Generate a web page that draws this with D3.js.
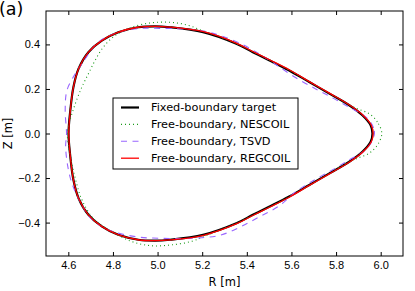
<!DOCTYPE html>
<html>
<head>
<meta charset="UTF-8">
<script src="https://d3js.org/d3.v7.min.js"></script>
<style>
  body { margin: 0; background: #fff; }
  svg { font-family: "DejaVu Sans", sans-serif; }
</style>
</head>
<body>
<svg width="415" height="291"></svg>
<script>
// boundary curves (R, Z in metres), closed loops
const targetR = [5.963, 5.955, 5.918, 5.859, 5.770, 5.680, 5.590, 5.502, 5.427, 5.353, 5.204, 5.055, 4.990, 4.914, 4.824, 4.750, 4.690, 4.646, 4.623, 4.609, 4.601,
                 4.609, 4.623, 4.646, 4.690, 4.750, 4.824, 4.914, 4.990, 5.055, 5.204, 5.353, 5.427, 5.502, 5.590, 5.680, 5.770, 5.859, 5.918, 5.955];
const targetZ = [0, 0.037, 0.082, 0.127, 0.179, 0.231, 0.283, 0.328, 0.365, 0.403, 0.455, 0.477, 0.481, 0.477, 0.455, 0.417, 0.365, 0.291, 0.209, 0.104, 0,
                 -0.104, -0.209, -0.291, -0.365, -0.417, -0.455, -0.477, -0.481, -0.477, -0.455, -0.403, -0.365, -0.328, -0.283, -0.231, -0.179, -0.127, -0.082, -0.037];

const nescoilR = [6.005, 5.985, 5.948, 5.893, 5.840, 5.770, 5.680, 5.590, 5.502, 5.427, 5.353, 5.270, 5.200, 5.140, 5.063, 4.973, 4.884, 4.810, 4.757, 4.720, 4.690, 4.661, 4.630, 4.605, 4.596,
                  4.600, 4.615, 4.636, 4.662, 4.715, 4.794, 4.884, 4.973, 5.063, 5.150, 5.210, 5.270, 5.353, 5.427, 5.502, 5.590, 5.680, 5.770, 5.840, 5.893, 5.948, 5.985];
const nescoilZ = [0, 0.052, 0.089, 0.112, 0.137, 0.180, 0.232, 0.284, 0.330, 0.367, 0.403, 0.437, 0.462, 0.485, 0.499, 0.497, 0.477, 0.440, 0.388, 0.328, 0.268, 0.209, 0.130, 0.050, 0,
                  -0.050, -0.130, -0.220, -0.300, -0.385, -0.440, -0.485, -0.504, -0.500, -0.485, -0.462, -0.437, -0.403, -0.367, -0.330, -0.284, -0.232, -0.180, -0.137, -0.112, -0.089, -0.052];

const tsvdR = [5.972, 5.968, 5.948, 5.910, 5.851, 5.784, 5.709, 5.620, 5.530, 5.460, 5.383, 5.290, 5.204, 5.110, 5.011, 4.929, 4.839, 4.735, 4.661, 4.631, 4.594, 4.586, 4.592,
               4.588, 4.598, 4.616, 4.640, 4.661, 4.700, 4.780, 4.914, 5.003, 5.100, 5.190, 5.277, 5.370, 5.460, 5.545, 5.620, 5.709, 5.790, 5.860, 5.920, 5.955];
const tsvdZ = [0, 0.025, 0.060, 0.090, 0.122, 0.160, 0.200, 0.250, 0.310, 0.355, 0.398, 0.437, 0.460, 0.470, 0.472, 0.472, 0.459, 0.410, 0.313, 0.268, 0.194, 0.104, 0,
               -0.060, -0.150, -0.224, -0.280, -0.321, -0.380, -0.433, -0.465, -0.470, -0.472, -0.468, -0.458, -0.420, -0.372, -0.325, -0.261, -0.205, -0.160, -0.118, -0.083, -0.045];

const regcoilR = [5.966, 5.958, 5.921, 5.862, 5.772, 5.682, 5.592, 5.504, 5.429, 5.355, 5.206, 5.055, 4.990, 4.912, 4.822, 4.748, 4.689, 4.646, 4.623, 4.609, 4.602,
                  4.609, 4.623, 4.646, 4.689, 4.748, 4.822, 4.912, 4.990, 5.055, 5.206, 5.355, 5.429, 5.504, 5.592, 5.682, 5.772, 5.862, 5.921, 5.958];
const regcoilZ = [0, 0.037, 0.082, 0.127, 0.180, 0.232, 0.285, 0.330, 0.367, 0.405, 0.457, 0.478, 0.481, 0.477, 0.454, 0.416, 0.364, 0.291, 0.209, 0.104, 0,
                  -0.104, -0.209, -0.291, -0.364, -0.416, -0.454, -0.477, -0.481, -0.478, -0.457, -0.405, -0.367, -0.330, -0.285, -0.232, -0.180, -0.127, -0.082, -0.037];

const xTicks = [4.6, 4.8, 5.0, 5.2, 5.4, 5.6, 5.8, 6.0];
const yTicks = [-0.4, -0.2, 0.0, 0.2, 0.4];

const legendLabels = ["Fixed-boundary target", "Free-boundary, NESCOIL", "Free-boundary, TSVD", "Free-boundary, REGCOIL"];

const series = [
  { label: legendLabels[0], R: targetR, Z: targetZ, color: "#000000", width: 2.2, dash: null },
  { label: legendLabels[1], R: nescoilR, Z: nescoilZ, color: "#1a9a1a", width: 1.1, dash: "1,3" },
  { label: legendLabels[2], R: tsvdR, Z: tsvdZ, color: "#9966ff", width: 1.1, dash: "6,5.5" },
  { label: legendLabels[3], R: regcoilR, Z: regcoilZ, color: "#ff0000", width: 1.3, dash: null }
];

const svg = d3.select("svg"),
  margin = { top: 11, right: 12, bottom: 35, left: 46 },
  width = +svg.attr("width") - margin.left - margin.right,
  height = +svg.attr("height") - margin.top - margin.bottom;

const g = svg.append("g").attr("transform", `translate(${margin.left},${margin.top})`);

const x = d3.scaleLinear().domain([4.5, 6.1]).range([0, width]);
const y = d3.scaleLinear().domain([-0.55, 0.55]).range([height, 0]);
const fmt = d3.format(".1f");

g.append("clipPath").attr("id", "clip")
  .append("rect").attr("width", width).attr("height", height);

// curves
const line = d3.line()
  .x(d => x(d[0]))
  .y(d => y(d[1]))
  .curve(d3.curveCatmullRomClosed.alpha(0.5));

const plot = g.append("g").attr("clip-path", "url(#clip)");
series.forEach(s => {
  plot.append("path")
    .datum(s.R.map((r, i) => [r, s.Z[i]]))
    .attr("d", line)
    .attr("fill", "none")
    .attr("stroke", s.color)
    .attr("stroke-width", s.width)
    .attr("stroke-dasharray", s.dash);
});

// axes, ticks pointing inwards on all four sides
const axisStyle = sel => {
  sel.select(".domain").remove();
  sel.selectAll("line").attr("stroke", "#000");
  sel.selectAll("text").attr("fill", "#000").style("font-size", "11px");
};

g.append("g")
  .attr("transform", `translate(0,${height})`)
  .call(d3.axisBottom(x).tickValues(xTicks).tickFormat(fmt).tickSizeInner(-4).tickSizeOuter(0).tickPadding(5))
  .call(axisStyle);

g.append("g")
  .call(d3.axisTop(x).tickValues(xTicks).tickFormat("").tickSizeInner(-4).tickSizeOuter(0))
  .call(axisStyle);

g.append("g")
  .call(d3.axisLeft(y).tickValues(yTicks).tickFormat(fmt).tickSizeInner(-4).tickSizeOuter(0).tickPadding(6))
  .call(axisStyle);

g.append("g")
  .attr("transform", `translate(${width},0)`)
  .call(d3.axisRight(y).tickValues(yTicks).tickFormat("").tickSizeInner(-4).tickSizeOuter(0))
  .call(axisStyle);

g.append("rect")
  .attr("width", width).attr("height", height)
  .attr("fill", "none").attr("stroke", "#000").attr("stroke-width", 1);

// axis labels
g.append("text")
  .attr("x", width / 2).attr("y", height + 30)
  .attr("text-anchor", "middle")
  .style("font-size", "11.5px")
  .text("R [m]");

svg.append("text")
  .attr("transform", `translate(12,${margin.top + height / 2}) rotate(-90)`)
  .attr("text-anchor", "middle")
  .style("font-size", "11.5px")
  .text("Z [m]");

svg.append("text")
  .attr("x", -1).attr("y", 14.5)
  .style("font-size", "17.5px")
  .text("(a)");

// legend
const legend = svg.append("g").attr("transform", "translate(113,98)");
legend.append("rect")
  .attr("width", 185).attr("height", 71)
  .attr("fill", "#fff").attr("stroke", "#000").attr("stroke-width", 1);

series.forEach((s, i) => {
  const row = legend.append("g").attr("transform", `translate(0,${9.5 + i * 16.9})`);
  row.append("line")
    .attr("x1", 8).attr("x2", 26)
    .attr("stroke", s.color)
    .attr("stroke-width", s.width)
    .attr("stroke-dasharray", s.dash);
  row.append("text")
    .attr("x", 38).attr("dy", "0.35em")
    .style("font-size", "11.3px")
    .text(s.label);
});
</script>
</body>
</html>
